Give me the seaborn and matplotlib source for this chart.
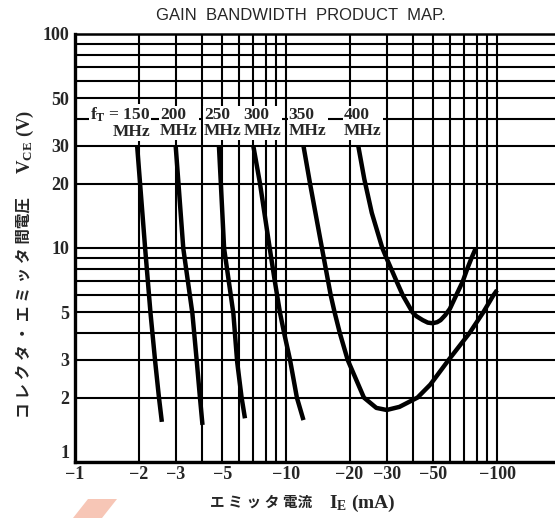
import matplotlib
matplotlib.use("Agg")
import matplotlib.pyplot as plt
import seaborn as sns
from matplotlib.patches import Polygon

# --- data (|IE| in mA, VCE in V) ---
ie_150 = [1.97, 2.15, 2.28, 2.40, 2.50, 2.58]
vce_150 = [30, 9.95, 4.95, 2.93, 2.0, 1.54]

ie_200 = [3.0, 3.26, 3.60, 3.78, 3.91, 4.02]
vce_200 = [30, 9.95, 4.95, 2.93, 2.0, 1.49]

ie_250 = [4.81, 5.09, 5.63, 5.87, 6.16, 6.39]
vce_250 = [30, 9.95, 4.95, 2.93, 2.0, 1.6]

ie_300 = [7.0, 7.53, 8.37, 8.85, 9.36, 9.8, 10.45, 11.26, 12.1]
vce_300 = [30, 20, 10, 7, 5, 4, 3, 2, 1.57]

ie_350 = [12.1, 13.0, 14.8, 16.3, 17.0, 18.0, 19.6, 23.4, 26.8, 30.0,
          34.5, 42.0, 48.3, 59.0, 74.0, 86.0, 96.0, 100]
vce_350 = [30, 20, 10, 6, 5, 4, 3, 2, 1.79, 1.75,
           1.81, 2.0, 2.3, 3, 4, 5, 6, 6.35]

ie_400 = [22.0, 23.5, 25.5, 28.6, 29.9, 31.5, 33.4, 35.8, 39.8, 41.5, 44.5,
          47.0, 49.5, 52.0, 54.0, 56.8, 59.8, 64.0, 68.9, 72.3, 75.8, 79.4]
vce_400 = [30, 21, 14.6, 10, 9, 8, 7, 6, 5, 4.8, 4.6,
           4.48, 4.45, 4.5, 4.6, 4.85, 5.2, 6, 7, 8, 9, 10]

curves = [(ie_150, vce_150), (ie_200, vce_200), (ie_250, vce_250),
          (ie_300, vce_300), (ie_350, vce_350), (ie_400, vce_400)]

x_major = [1, 2, 3, 5, 10, 20, 30, 50, 100]
x_minor = [4, 6, 7, 8, 9, 40, 60, 70, 80, 90]
y_major = [1, 2, 3, 5, 10, 20, 30, 50, 100]
y_minor = [4, 6, 7, 8, 9, 40, 60, 70, 80, 90]

ft_labels = ["$f_T$ = 150\nMHz", "200\nMHz", "250\nMHz", "300\nMHz", "350\nMHz", "400\nMHz"]
ft_label_x = [2.27, 2.53, 4.09, 6.3, 10.3, 18.8]

sns.set_style("white")
plt.rcParams["font.family"] = ["Liberation Serif", "Noto Sans CJK JP"]
plt.rcParams["font.weight"] = "bold"
plt.rcParams["mathtext.fontset"] = "custom"
plt.rcParams["mathtext.rm"] = "Liberation Serif:bold"
plt.rcParams["mathtext.it"] = "Liberation Serif:bold"
plt.rcParams["mathtext.bf"] = "Liberation Serif:bold"

W, H = 555, 518
fig = plt.figure(figsize=(W / 100, H / 100), dpi=100)
ax = fig.add_axes([75 / W, 56 / H, 480 / W, 428 / H])

for ie, vce in curves:
    sns.lineplot(x=ie, y=vce, ax=ax, color="black", lw=3.2, sort=False,
                 estimator=None, legend=False,
                 solid_joinstyle="round", solid_capstyle="butt")

ax.set_xscale("log")
ax.set_yscale("log")
ax.set_xlim(1, 10 ** (480 / 211))
ax.set_ylim(1, 100)

ax.set_xticks(x_major)
ax.set_xticks(x_minor, minor=True)
ax.set_xticklabels(["\u2212" + str(v) for v in x_major])
ax.set_yticks(y_major)
ax.set_yticks(y_minor, minor=True)
ax.set_yticklabels([str(v) for v in y_major])
ax.tick_params(which="both", length=0)
ax.tick_params(axis="y", pad=4, labelsize=13)
ax.tick_params(axis="x", pad=3, labelsize=13)
ax.grid(which="both", color="black", lw=1.5)
ax.set_xlabel("")
ax.set_ylabel("")
# the "1" sits just above the bottom line in the original
ax.get_yticklabels()[0].set_va("bottom")

for s in ["left", "bottom"]:
    ax.spines[s].set_linewidth(2.4)
    ax.spines[s].set_color("black")
ax.spines["top"].set_linewidth(1.8)
ax.spines["top"].set_color("black")
ax.spines["right"].set_visible(False)

# fT labels
for i, (txt, xl) in enumerate(zip(ft_labels, ft_label_x)):
    ha = "right" if i == 0 else "left"
    ax.text(xl, 38.5, txt, ha=ha, va="center", multialignment=ha,
            fontsize=12.5, linespacing=1.0, zorder=5,
            bbox=dict(facecolor="white", edgecolor="none", pad=0.8))

# title and axis labels
fig.text(301 / W, 1 - 15 / H, "GAIN  BANDWIDTH  PRODUCT  MAP.",
         family="Liberation Sans", fontsize=12, weight="normal",
         ha="center", va="center")
fig.text(25 / W, 1 - 308 / H, "コ レ ク タ ・ エ ミ ッ タ 間電圧",
         rotation=90, ha="center", va="center", fontsize=11.2)
fig.text(25 / W, 1 - 142 / H, "V$_{CE}$ (V)", rotation=90,
         ha="center", va="center", fontsize=13.5)
fig.text(261 / W, 1 - 503 / H, "エ ミ ッ タ 電流", ha="center", va="center",
         fontsize=10.5)
fig.text(362 / W, 1 - 503 / H, "I$_E$ (mA)", ha="center", va="center",
         fontsize=14)

# pale mark at the bottom of the scan
fig.patches.append(Polygon([(88 / W, 1 - 499 / H), (117 / W, 1 - 499 / H),
                            (102 / W, 0), (73 / W, 0)], closed=True,
                           transform=fig.transFigure, facecolor="#f7c6b6",
                           edgecolor="none"))

fig.savefig("out.png", dpi=100)
